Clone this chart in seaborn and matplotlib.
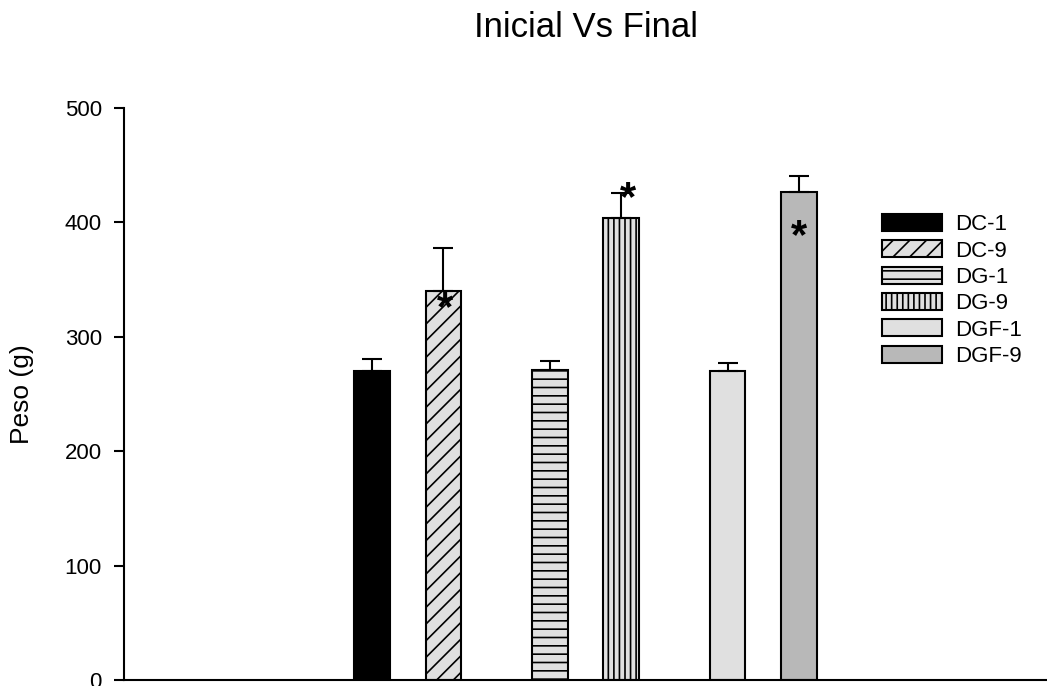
import matplotlib
matplotlib.use("Agg")
import matplotlib.pyplot as plt
from matplotlib.patches import Patch
import seaborn as sns
import pandas as pd

# dados
grupos = ["DC", "DG", "DGF"]
dias = ["1", "9"]
peso_inicial = [270, 271, 270]
peso_final = [340, 404, 427]
erro_inicial = [10.5, 8, 7.5]
erro_final = [37.5, 22, 13.5]
# barras com asterisco (significancia)
signif = ["DC-9", "DG-9", "DGF-9"]

df = pd.DataFrame({
    "grupo": grupos * 2,
    "dia": [dias[0]] * 3 + [dias[1]] * 3,
    "peso": peso_inicial + peso_final,
    "erro": erro_inicial + erro_final,
})
df["rotulo"] = df["grupo"] + "-" + df["dia"]
ordem = [f"{g}-{d}" for g in grupos for d in dias]
df = df.set_index("rotulo").loc[ordem]

estilos = {
    "DC-1": ("black", ""),
    "DC-9": ("#e0e0e0", "//"),
    "DG-1": ("#e0e0e0", "--"),
    "DG-9": ("#e0e0e0", "|||"),
    "DGF-1": ("#e0e0e0", ""),
    "DGF-9": ("#b8b8b8", ""),
}

sns.set_style("ticks")
plt.rcParams["font.family"] = ["Liberation Sans", "DejaVu Sans"]
plt.rcParams["hatch.linewidth"] = 1.2
plt.rcParams["text.color"] = "black"
plt.rcParams["axes.labelcolor"] = "black"
plt.rcParams["ytick.color"] = "black"

fig = plt.figure(figsize=(10.47, 6.86), dpi=100)
ax = fig.add_axes([124 / 1047, 6 / 686, 923 / 1047, 572 / 686])

sns.barplot(data=df.reset_index(), x="grupo", y="peso", hue="dia",
            order=grupos, hue_order=dias, width=0.8, gap=0.5,
            palette={"1": "#e0e0e0", "9": "#e0e0e0"}, edgecolor="black",
            linewidth=1.5, errorbar=None, legend=False, ax=ax)

barras = sorted(ax.patches, key=lambda p: p.get_x())
for p, rot in zip(barras, ordem):
    cor, hatch = estilos[rot]
    p.set_facecolor(cor)
    p.set_hatch(hatch)
    xc = p.get_x() + p.get_width() / 2
    h = p.get_height()
    err = df.loc[rot, "erro"]
    ax.errorbar(xc, h, yerr=[[0], [err]], fmt="none", ecolor="black",
                elinewidth=1.5, capsize=7, capthick=1.5, zorder=1)

# asteriscos
for p, rot in zip(barras, ordem):
    if rot not in signif:
        continue
    xc = p.get_x() + p.get_width() / 2
    h = p.get_height()
    if rot == "DC-9":
        ax.text(xc + 0.01, h - 16, "*", ha="center", va="center",
                fontsize=30, fontweight="bold")
    elif rot == "DG-9":
        ax.text(xc + 0.04, h + df.loc[rot, "erro"] - 6, "*", ha="center",
                va="center", fontsize=30, fontweight="bold")
    else:
        ax.text(xc, h - 40, "*", ha="center", va="center",
                fontsize=30, fontweight="bold")

ax.set_xlim(-1.596, 3.596)
ax.set_ylim(0, 500)
ax.set_yticks(range(0, 501, 100))
ax.set_xlabel("")
ax.set_ylabel("Peso (g)", fontsize=19)
ax.yaxis.set_label_coords(-0.098, 0.5)
ax.tick_params(axis="x", length=0, labelbottom=False)
ax.tick_params(axis="y", length=7, width=1.5, pad=9, labelsize=16)
sns.despine(ax=ax)
for s in ["left", "bottom"]:
    ax.spines[s].set_linewidth(1.5)
    ax.spines[s].set_color("black")
ax.spines["bottom"].set_zorder(3)

fig.text(586 / 1047, 1 - 37 / 686, "Inicial Vs Final", ha="center",
         va="baseline", fontsize=25)

handles = [Patch(facecolor=estilos[r][0], hatch=estilos[r][1],
                 edgecolor="black", linewidth=1.5) for r in ordem]
ax.legend(handles, ordem, loc="upper left",
          bbox_to_anchor=(882 / 1047, 1 - 214 / 686),
          bbox_transform=fig.transFigure, frameon=False, fontsize=16,
          handlelength=2.7, handleheight=0.8, labelspacing=0.23,
          handletextpad=0.6, borderpad=0, borderaxespad=0)

fig.savefig("out.png", dpi=100)
